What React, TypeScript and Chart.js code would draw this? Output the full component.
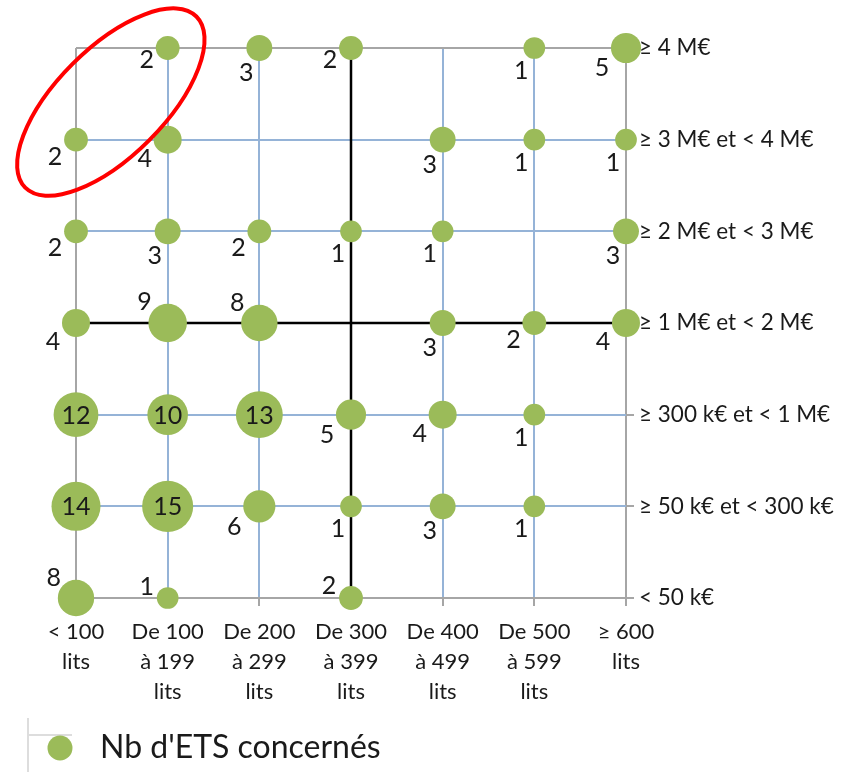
import React, { useEffect, useRef } from "react";
import { Chart, registerables } from "chart.js";

Chart.register(...registerables);

// Columns (x categories) and rows (y categories)
const xLabels: string[][] = [
  ["< 100", "lits"],
  ["De 100", "à 199", "lits"],
  ["De 200", "à 299", "lits"],
  ["De 300", "à 399", "lits"],
  ["De 400", "à 499", "lits"],
  ["De 500", "à 599", "lits"],
  ["≥ 600", "lits"],
];
const yLabels: string[] = [
  "< 50 k€",
  "≥ 50 k€ et < 300 k€",
  "≥ 300 k€ et < 1 M€",
  "≥ 1 M€ et < 2 M€",
  "≥ 2 M€ et < 3 M€",
  "≥ 3 M€ et < 4 M€",
  "≥ 4 M€",
];

// Bubbles: column index, row index, count, label placement
const colIdx = [1, 2, 3, 5, 6, 0, 1, 4, 5, 6, 0, 1, 2, 3, 4, 6, 0, 1, 2, 4, 5, 6, 0, 1, 2, 3, 4, 5, 0, 1, 2, 3, 4, 5, 0, 1, 3];
const rowIdx = [6, 6, 6, 6, 6, 5, 5, 5, 5, 5, 4, 4, 4, 4, 4, 4, 3, 3, 3, 3, 3, 3, 2, 2, 2, 2, 2, 2, 1, 1, 1, 1, 1, 1, 0, 0, 0];
const counts = [2, 3, 2, 1, 5, 2, 4, 3, 1, 1, 2, 3, 2, 1, 1, 3, 4, 9, 8, 3, 2, 4, 12, 10, 13, 5, 4, 1, 14, 15, 6, 1, 3, 1, 8, 1, 2];
const labelPos = [
  "ld", "b", "ld", "b", "bl",
  "bl", "bl", "b", "b", "b",
  "bl", "b", "bl", "b", "b", "b",
  "bl", "al", "al", "b", "bl", "bl",
  "c", "c", "c", "bl", "bl", "b",
  "c", "c", "bl", "b", "b", "b",
  "al", "lu", "lu",
];

const seriesName = "Nb d'ETS concernés";
const FONT = "Lato, 'Open Sans', sans-serif";
const GREEN = "#9bbb59";
const GRID_BLUE = "#95b3d7";
const BORDER_GRAY = "#a6a6a6";

const radiusFor = (v: number) => 9.8 + 1.05 * v;

const labelsPlugin = {
  id: "bubbleLabels",
  afterDatasetsDraw(chart: any) {
    const meta = chart.getDatasetMeta(0);
    const ctx = chart.ctx;
    ctx.save();
    ctx.fillStyle = "#1a1a1a";
    ctx.font = `25px ${FONT}`;
    ctx.textAlign = "center";
    ctx.textBaseline = "middle";
    meta.data.forEach((el: any, i: number) => {
      const r = radiusFor(counts[i]);
      let dx = 0;
      let dy = 0;
      switch (labelPos[i]) {
        case "b": dx = -13; dy = r + 12; break;
        case "bl": dx = -(r + 9); dy = r + 5; break;
        case "al": dx = -(r + 4); dy = -(r + 2); break;
        case "lu": dx = -(r + 10); dy = -r; break;
        case "ld": dx = -(r + 9); dy = r; break;
        default: dx = 0; dy = 1;
      }
      ctx.fillText(String(counts[i]), el.x + dx, el.y + dy);
    });
    ctx.restore();
  },
};

const decorPlugin = {
  id: "decor",
  beforeDatasetsDraw(chart: any) {
    const { ctx, scales } = chart;
    const xs = scales.x;
    const ys = scales.y;
    ctx.save();
    ctx.strokeStyle = "#000000";
    ctx.lineWidth = 2.5;
    ctx.beginPath();
    ctx.moveTo(xs.getPixelForValue(3), ys.getPixelForValue(0));
    ctx.lineTo(xs.getPixelForValue(3), ys.getPixelForValue(6));
    ctx.moveTo(xs.getPixelForValue(0), ys.getPixelForValue(3));
    ctx.lineTo(xs.getPixelForValue(6), ys.getPixelForValue(3));
    ctx.stroke();
    ctx.restore();
  },
  afterDraw(chart: any) {
    const { ctx, scales } = chart;
    const xs = scales.x;
    const ys = scales.y;
    ctx.save();
    // highlight ellipse
    const cx = xs.getPixelForValue(0.38);
    const cy = ys.getPixelForValue(5.41);
    const unit = xs.getPixelForValue(1) - xs.getPixelForValue(0);
    ctx.strokeStyle = "#ff0000";
    ctx.lineWidth = 4;
    ctx.beginPath();
    ctx.ellipse(cx, cy, unit * 1.32, unit * 0.59, -Math.PI / 4, 0, Math.PI * 2);
    ctx.stroke();

    // legend
    const lx = 60;
    const ly = 748;
    ctx.strokeStyle = "#dddddd";
    ctx.lineWidth = 2;
    ctx.beginPath();
    ctx.moveTo(28, 718);
    ctx.lineTo(28, 772);
    ctx.moveTo(28, 735);
    ctx.lineTo(72, 735);
    ctx.stroke();
    ctx.fillStyle = GREEN;
    ctx.beginPath();
    ctx.arc(lx, ly, 12.5, 0, Math.PI * 2);
    ctx.fill();
    ctx.fillStyle = "#1a1a1a";
    ctx.font = `32px ${FONT}`;
    ctx.textAlign = "left";
    ctx.textBaseline = "middle";
    ctx.fillText(seriesName, 100, ly);
    ctx.restore();
  },
};

export default function App() {
  const ref = useRef<HTMLCanvasElement | null>(null);

  useEffect(() => {
    document.body.style.margin = "0";
    const canvas = ref.current;
    if (!canvas) return;
    const points = counts.map((v, i) => ({ x: colIdx[i], y: rowIdx[i], r: radiusFor(v), v }));
    const chart = new Chart(canvas, {
      type: "bubble",
      data: {
        datasets: [
          {
            label: seriesName,
            data: points,
            backgroundColor: GREEN,
            borderColor: GREEN,
            borderWidth: 0,
            hoverRadius: 0,
            clip: false as any,
          },
        ],
      },
      options: {
        animation: false,
        responsive: false,
        maintainAspectRatio: false,
        layout: { padding: { left: 76, top: 48, right: 0, bottom: 0 } },
        plugins: {
          legend: { display: false },
          tooltip: { enabled: false },
        },
        scales: {
          x: {
            type: "linear",
            min: 0,
            max: 6,
            position: "bottom",
            afterFit: (s: any) => { s.height = 772 - 598; },
            afterBuildTicks: (s: any) => {
              s.ticks = xLabels.map((_, i) => ({ value: i }));
            },
            ticks: {
              autoSkip: false,
              maxRotation: 0,
              padding: 11,
              color: "#1a1a1a",
              font: { family: FONT, size: 22, lineHeight: 1.36 },
              callback: (v: any) => xLabels[Math.round(Number(v))],
            },
            grid: {
              color: (c: any) => (c.index === 0 || c.index === 6 ? BORDER_GRAY : GRID_BLUE),
              lineWidth: 2,
              tickLength: 8,
              tickColor: BORDER_GRAY,
            },
            border: { display: false },
          },
          y: {
            type: "linear",
            min: 0,
            max: 6,
            position: "right",
            afterFit: (s: any) => { s.width = 850 - 626; },
            afterBuildTicks: (s: any) => {
              s.ticks = yLabels.map((_, i) => ({ value: i }));
            },
            ticks: {
              autoSkip: false,
              padding: 5,
              color: "#1a1a1a",
              font: { family: FONT, size: 22.5 },
              callback: (v: any) => yLabels[Math.round(Number(v))],
            },
            grid: {
              color: (c: any) => (c.index === 0 || c.index === 6 ? BORDER_GRAY : GRID_BLUE),
              lineWidth: 2,
              tickLength: 8,
              tickColor: BORDER_GRAY,
            },
            border: { display: false },
          },
        },
      },
      plugins: [decorPlugin, labelsPlugin],
    });
    return () => chart.destroy();
  }, []);

  return (
    <div style={{ width: 850, height: 772, background: "#ffffff" }}>
      <canvas ref={ref} width={850} height={772} style={{ display: "block" }} />
    </div>
  );
}
